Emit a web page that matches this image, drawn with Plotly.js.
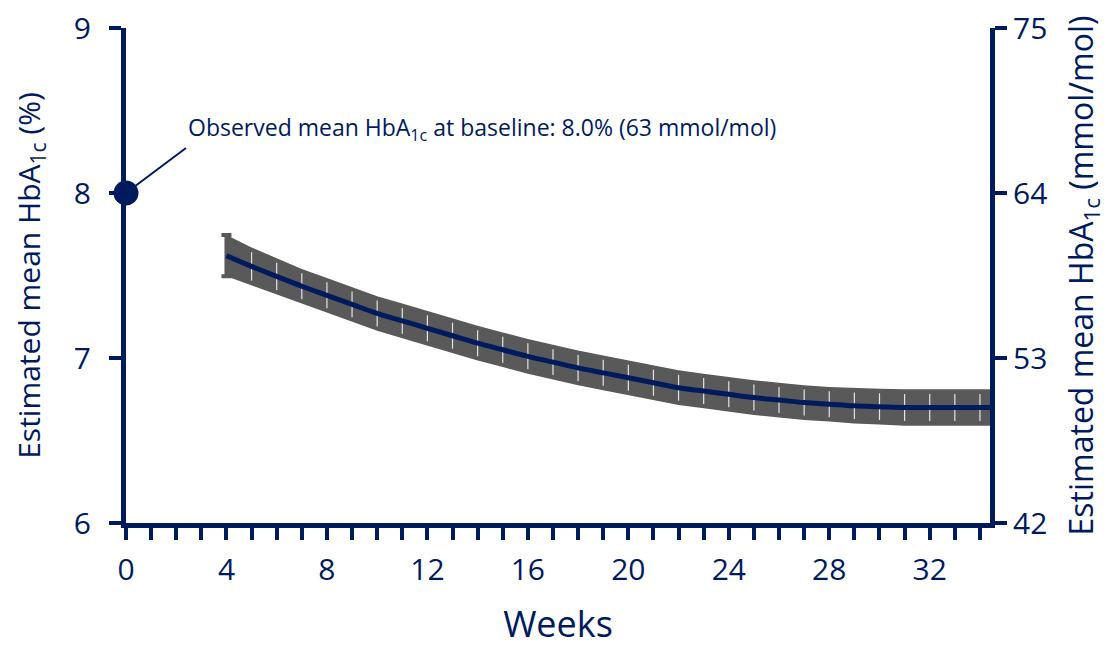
<!DOCTYPE html>
<html>
<head>
<meta charset="utf-8">
<script src="https://cdn.plot.ly/plotly-3.0.1.min.js"></script>
<style>html,body{margin:0;padding:0;background:#fff}#chart{width:1110px;height:648px}</style>
</head>
<body>
<div id="chart"></div>
<script>
// Data
var weeks = [4,5,6,7,8,9,10,11,12,13,14,15,16,17,18,19,20,21,22,23,24,25,26,27,28,29,30,31,32,33,34,34.5];
var meanHbA1c = [7.62,7.555,7.495,7.435,7.38,7.325,7.27,7.225,7.18,7.135,7.09,7.05,7.01,6.975,6.94,6.91,6.88,6.85,6.82,6.80,6.78,6.76,6.745,6.73,6.72,6.71,6.705,6.70,6.70,6.70,6.70,6.70];
var ciHalf = [0.125,0.115,0.11,0.105,0.105,0.105,0.105,0.105,0.105,0.105,0.105,0.105,0.105,0.105,0.105,0.105,0.105,0.105,0.105,0.105,0.105,0.105,0.105,0.105,0.105,0.107,0.108,0.11,0.11,0.11,0.11,0.11];
var baselineWeek = [0];
var baselineHbA1c = [8.0];
var xTickVals = [0,4,8,12,16,20,24,28,32];
var yTickVals = [6,7,8,9];
var y2TickVals = [42,53,64,75];

var navy = '#001a5e';
var grey = '#595959';
var upper = meanHbA1c.map(function(m,i){return m+ciHalf[i];});
var lower = meanHbA1c.map(function(m,i){return m-ciHalf[i];});
var whiteBars = ciHalf.map(function(h){return h*0.75;});

var traces = [
  {x: weeks, y: upper, mode:'lines', line:{width:0,color:grey}, hoverinfo:'skip', showlegend:false},
  {x: weeks, y: lower, mode:'lines', line:{width:0,color:grey}, fill:'tonexty', fillcolor:grey, hoverinfo:'skip', showlegend:false},
  {x: weeks.slice(1), y: meanHbA1c.slice(1), mode:'markers', marker:{size:0.1,color:'rgba(0,0,0,0)'},
   error_y:{type:'data', array: whiteBars.slice(1), color:'rgba(235,235,235,0.95)', thickness:1.2, width:0}, hoverinfo:'skip', showlegend:false},
  {x: weeks.slice(0,1), y: meanHbA1c.slice(0,1), mode:'markers', marker:{size:0.1,color:'rgba(0,0,0,0)'},
   error_y:{type:'data', array: ciHalf.slice(0,1), color:grey, thickness:4, width:5}, hoverinfo:'skip', showlegend:false},
  {x: weeks, y: meanHbA1c, mode:'lines', line:{width:5,color:navy,shape:'spline'}, showlegend:false},
  {x: baselineWeek, y: baselineHbA1c, mode:'markers', marker:{size:25,color:navy}, cliponaxis:false, showlegend:false},
  {x: baselineWeek, y: [y2TickVals[0]], yaxis:'y2', mode:'markers', marker:{opacity:0}, hoverinfo:'skip', showlegend:false}
];

var font = 'Open Sans, Noto Sans, sans-serif';
var layout = {
  width:1110, height:648,
  margin:{l:126, r:120, t:28, b:125, pad:0},
  paper_bgcolor:'#fff', plot_bgcolor:'#fff',
  font:{family:font, color:navy},
  showlegend:false,
  xaxis:{
    range:[0,34.4], tickvals:xTickVals, ticks:'outside', ticklen:12, tickwidth:4, tickcolor:navy,
    minor:{dtick:1, tick0:0, ticks:'outside', ticklen:12, tickwidth:4, tickcolor:navy},
    showline:true, linewidth:5, linecolor:navy, showgrid:false, zeroline:false,
    tickfont:{size:30, color:navy, family:font}, ticklabelstandoff:4,
    title:{text:'Weeks', font:{size:36, color:navy, family:font}, standoff:32}
  },
  yaxis:{
    range:[6,9], tickvals:yTickVals, ticks:'outside', ticklen:12, tickwidth:4, tickcolor:navy,
    showline:true, linewidth:5, linecolor:navy, showgrid:false, zeroline:false,
    tickfont:{size:30, color:navy, family:font}, ticklabelstandoff:12,
    title:{text:'Estimated mean HbA<sub>1c</sub> (%)', font:{size:30, color:navy, family:font}, standoff:26}
  },
  yaxis2:{
    overlaying:'y', side:'right', anchor:'x',
    range:[42,75], tickvals:y2TickVals, ticks:'outside', ticklen:12, tickwidth:4, tickcolor:navy,
    showline:true, linewidth:5, linecolor:navy, showgrid:false, zeroline:false,
    tickfont:{size:30, color:navy, family:font},
    title:{text:'Estimated mean HbA<sub>1c</sub> (mmol/mol)', font:{size:32, color:navy, family:font}, standoff:26}
  },
  annotations:[{
    x: baselineWeek[0], y: baselineHbA1c[0], xref:'x', yref:'y',
    text:'Observed mean HbA<sub>1c</sub> at baseline: 8.0% (63 mmol/mol)',
    showarrow:true, arrowhead:0, arrowwidth:2, arrowcolor:navy, standoff:12,
    ax:60, ay:-45, xanchor:'left', yanchor:'bottom',
    font:{size:23, color:navy, family:font}
  }]
};
Plotly.newPlot('chart', traces, layout, {displayModeBar:false, staticPlot:true});
</script>
</body>
</html>
